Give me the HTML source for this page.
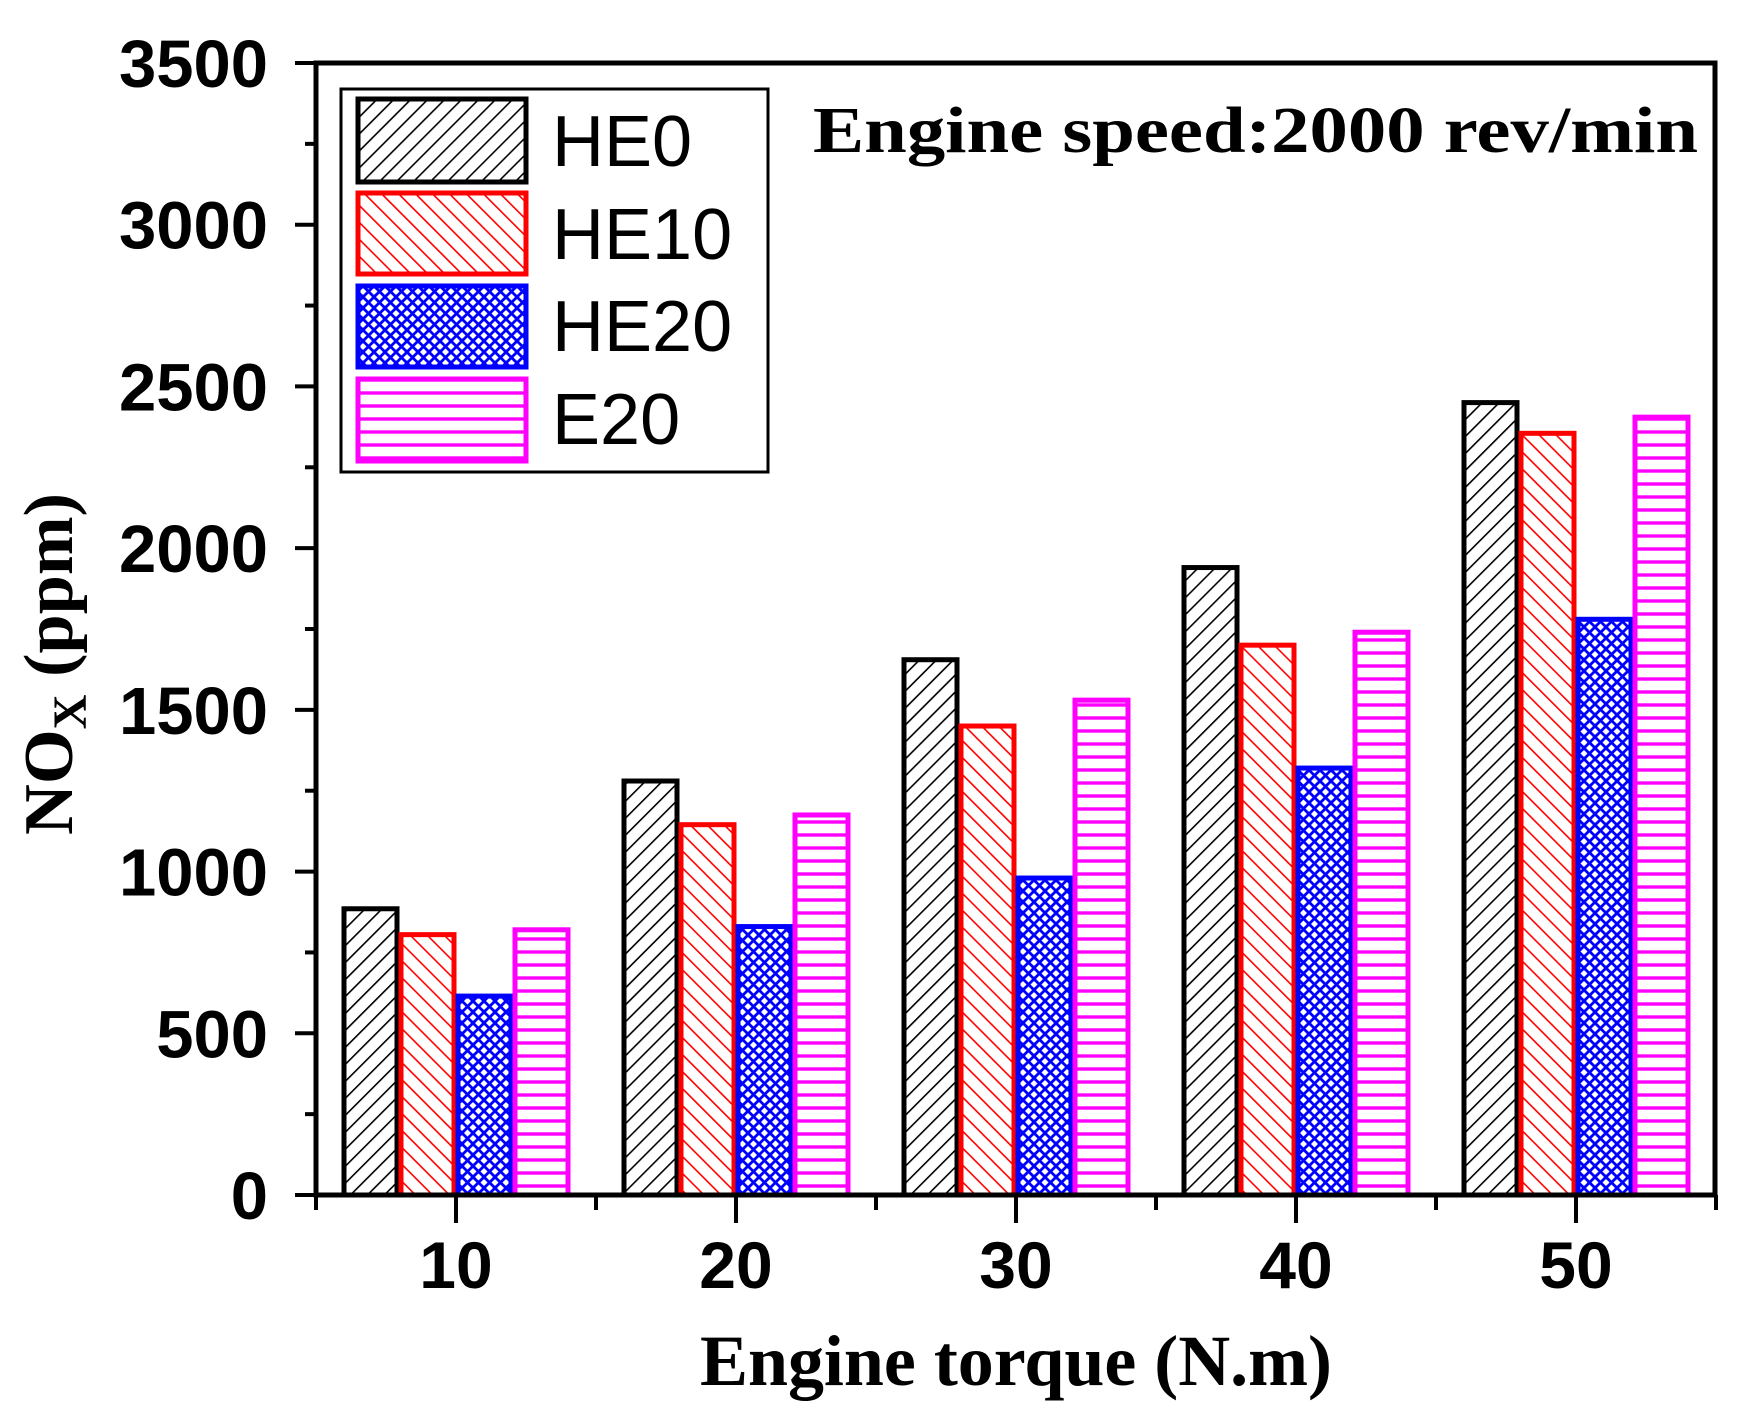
<!DOCTYPE html>
<html><head><meta charset="utf-8"><style>html,body{margin:0;padding:0;background:#fff}svg{display:block}</style></head>
<body>
<svg width="1755" height="1428" viewBox="0 0 1755 1428" xmlns="http://www.w3.org/2000/svg">
<defs>
<pattern id="pk" patternUnits="userSpaceOnUse" width="12" height="12" patternTransform="rotate(45)">
<rect width="12" height="12" fill="#fff"/><line x1="0" y1="0" x2="0" y2="12" stroke="#000" stroke-width="3.2"/></pattern>
<pattern id="pr" patternUnits="userSpaceOnUse" width="12" height="12" patternTransform="rotate(-45)">
<rect width="12" height="12" fill="#fff"/><line x1="0" y1="0" x2="0" y2="12" stroke="#f00" stroke-width="3.2"/></pattern>
<pattern id="pb" patternUnits="userSpaceOnUse" width="11" height="11">
<rect width="11" height="11" fill="#fff"/>
<path d="M0,0 L11,11 M11,0 L0,11" stroke="#00f" stroke-width="2.8"/>
<circle cx="0" cy="0" r="2.2" fill="#00f"/><circle cx="11" cy="0" r="2.2" fill="#00f"/><circle cx="0" cy="11" r="2.2" fill="#00f"/><circle cx="11" cy="11" r="2.2" fill="#00f"/></pattern>
<pattern id="pm" patternUnits="userSpaceOnUse" width="12" height="13">
<rect width="12" height="13" fill="#fff"/><line x1="0" y1="3" x2="12" y2="3" stroke="#f0f" stroke-width="3.4"/></pattern>
</defs>

<g id="bars"></g>

<rect x="316" y="63" width="1399" height="1132" fill="none" stroke="#000" stroke-width="5"/>
<g stroke="#000" stroke-width="4" id="ticks"></g>
<g font-family="Liberation Sans, Arial, sans-serif" font-weight="bold" font-size="67" fill="#000" text-anchor="end" id="ylab"></g>
<g font-family="Liberation Sans, Arial, sans-serif" font-weight="bold" font-size="66" fill="#000" text-anchor="middle">
<text x="456" y="1288">10</text><text x="736" y="1288">20</text><text x="1016" y="1288">30</text><text x="1296" y="1288">40</text><text x="1576" y="1288">50</text>
</g>

<rect x="341" y="89" width="427" height="383" fill="#fff" stroke="#000" stroke-width="3"/>
<rect x="358" y="99" width="168" height="83" fill="url(#pk)" stroke="#000" stroke-width="5"/>
<rect x="358" y="193" width="168" height="81" fill="url(#pr)" stroke="#f00" stroke-width="5"/>
<rect x="358" y="286" width="168" height="81" fill="url(#pb)" stroke="#00f" stroke-width="5"/>
<rect x="358" y="379" width="168" height="82" fill="url(#pm)" stroke="#f0f" stroke-width="5"/>
<g font-family="Liberation Sans, Arial, sans-serif" font-size="72" fill="#000">
<text x="552" y="166">HE0</text><text x="552" y="259">HE10</text><text x="552" y="351">HE20</text><text x="552" y="444">E20</text>
</g>

<text x="813" y="152" font-family="Liberation Serif, serif" font-weight="bold" font-size="66" textLength="885" lengthAdjust="spacingAndGlyphs">Engine speed:2000 rev/min</text>
<text x="700" y="1385" font-family="Liberation Serif, serif" font-weight="bold" font-size="72" textLength="632" lengthAdjust="spacingAndGlyphs">Engine torque (N.m)</text>
<text transform="translate(72,835) rotate(-90)" font-family="Liberation Serif, serif" font-weight="bold" font-size="70" textLength="342" lengthAdjust="spacingAndGlyphs">NO<tspan font-size="48" dy="14">X</tspan><tspan dy="-14"> (ppm)</tspan></text>

<script>
(function(){
var ns="http://www.w3.org/2000/svg";
var base=1195,k=1132/3500;
var data=[[885,1280,1655,1940,2450],[805,1145,1450,1700,2355],[615,830,980,1320,1780],[820,1175,1530,1740,2405]];
var fills=["url(#pk)","url(#pr)","url(#pb)","url(#pm)"],strokes=["#000","#f00","#00f","#f0f"];
var g=document.getElementById("bars");
for(var s=0;s<4;s++)for(var i=0;i<5;i++){
var c=456+280*i,x=c-112+s*57,h=data[s][i]*k;
var r=document.createElementNS(ns,"rect");
r.setAttribute("x",x);r.setAttribute("y",base-h);r.setAttribute("width",53);r.setAttribute("height",h);
r.setAttribute("fill",fills[s]);r.setAttribute("stroke",strokes[s]);r.setAttribute("stroke-width",5);
g.appendChild(r);}
var t=document.getElementById("ticks"),yl=document.getElementById("ylab");
function ln(x1,y1,x2,y2){var l=document.createElementNS(ns,"line");l.setAttribute("x1",x1);l.setAttribute("y1",y1);l.setAttribute("x2",x2);l.setAttribute("y2",y2);t.appendChild(l);}
for(var v=0;v<=3500;v+=250){var y=base-v*k;
if(v%500==0){ln(295,y,316,y);var tx=document.createElementNS(ns,"text");tx.setAttribute("x",268);tx.setAttribute("y",y+24);tx.textContent=v;yl.appendChild(tx);}
else ln(305,y,316,y);}
for(var i=0;i<5;i++){ln(456+280*i,base,456+280*i,base+28);}
for(var i=0;i<6;i++){ln(316+280*i,base,316+280*i,base+15);}
})();
</script>
</svg>
</body></html>
